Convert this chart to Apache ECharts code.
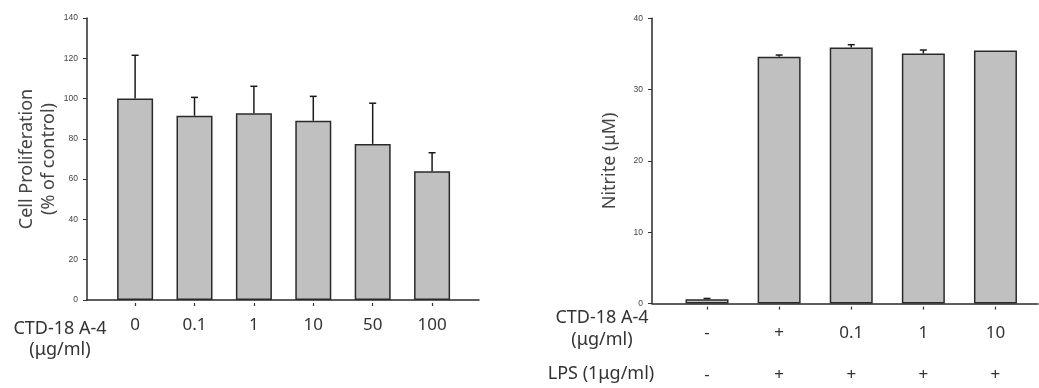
<!DOCTYPE html>
<html><head><meta charset="utf-8">
<script src="https://cdn.jsdelivr.net/npm/echarts@6/dist/echarts.min.js"></script>
<style>html,body{margin:0;padding:0;background:#fff}#c{width:1039px;height:388px}</style>
</head><body><div id="c"></div>
<script>
// Left panel: cell proliferation
const leftCats = ['0', '0.1', '1', '10', '50', '100'];
const leftVals = [100, 91.5, 92.7, 89.0, 77.5, 63.9];
const leftErr  = [21.5, 9.1, 13.4, 12.1, 20.2, 9.2];
const leftTicks = [0, 20, 40, 60, 80, 100, 120, 140];
// Right panel: nitrite
const rightCats = ['-', '+', '0.1', '1', '10'];
const rightLps  = ['-', '+', '+', '+', '+'];
const rightVals = [0.6, 34.6, 35.9, 35.05, 35.5];
const rightErr  = [0.12, 0.25, 0.4, 0.5, 0];
const rightTicks = [0, 10, 20, 30, 40];

const FONT = 'Noto Sans';
const chart = echarts.init(document.getElementById('c'), null, {renderer: 'canvas'});
const idx = a => a.map((_, i) => i);

function errSeries(xi, yi, vals, errs) {
  return {
    type: 'custom', xAxisIndex: xi, yAxisIndex: yi, z: 5,
    data: vals.map((v, i) => [i, v, errs[i]]),
    renderItem: (params, api) => {
      const x = api.value(0), v = api.value(1), e = api.value(2);
      if (!(e > 0)) return null;
      const b = api.coord([x, v]), t = api.coord([x, v + e]);
      const st = {stroke: '#1a1a1a', lineWidth: 1.5};
      return {type: 'group', children: [
        {type: 'line', shape: {x1: b[0], y1: b[1], x2: t[0], y2: t[1]}, style: st},
        {type: 'line', shape: {x1: t[0] - 3.5, y1: t[1], x2: t[0] + 3.5, y2: t[1]}, style: st}
      ]};
    }
  };
}

const axisLineStyle = {color: '#2a2a2a', width: 1.5};
const yLabel = {fontFamily: 'Liberation Sans', fontSize: 8.5, color: '#444'};
const catLabel = {fontFamily: FONT, fontSize: 17, color: '#333'};
const hdr = {fontFamily: FONT, fontSize: 18, fill: '#333', align: 'center', verticalAlign: 'middle'};

chart.setOption({
  animation: false,
  grid: [
    {left: 87, top: 18, width: 392, height: 282},
    {left: 652, top: 18.3, width: 386, height: 285.3}
  ],
  xAxis: [
    {gridIndex: 0, type: 'value', min: -0.81, max: 5.79, axisLine: {show: true, lineStyle: axisLineStyle, onZero: false},
     axisTick: {show: false}, axisLabel: {show: false}, splitLine: {show: false}},
    {gridIndex: 0, type: 'value', min: -0.81, max: 5.79, position: 'bottom', offset: 3,
     axisLine: {show: false, onZero: false}, splitLine: {show: false},
     axisTick: {show: true, customValues: idx(leftCats), length: 3, lineStyle: {color: '#333', width: 1.2}},
     axisLabel: {show: true, customValues: idx(leftCats), margin: 14, formatter: v => leftCats[Math.round(v)], ...catLabel}},
    {gridIndex: 1, type: 'value', min: -0.763, max: 4.59, axisLine: {show: true, lineStyle: axisLineStyle, onZero: false},
     axisTick: {show: false}, axisLabel: {show: false}, splitLine: {show: false}},
    {gridIndex: 1, type: 'value', min: -0.763, max: 4.59, position: 'bottom', offset: 3,
     axisLine: {show: false, onZero: false}, splitLine: {show: false},
     axisTick: {show: true, customValues: idx(rightCats), length: 3, lineStyle: {color: '#333', width: 1.2}},
     axisLabel: {show: true, customValues: idx(rightCats), margin: 18, formatter: v => rightCats[Math.round(v)], ...catLabel}},
    {gridIndex: 1, type: 'value', min: -0.763, max: 4.59, position: 'bottom', offset: 0,
     axisLine: {show: false, onZero: false}, splitLine: {show: false}, axisTick: {show: false},
     axisLabel: {show: true, customValues: idx(rightLps), margin: 63, formatter: v => rightLps[Math.round(v)], ...catLabel}}
  ],
  yAxis: [
    {gridIndex: 0, type: 'value', min: 0, max: 140, interval: 20,
     axisLine: {show: true, onZero: false, lineStyle: axisLineStyle}, axisTick: {show: true, length: 4, lineStyle: {color: '#333'}},
     axisLabel: {margin: 9, formatter: v => leftTicks.includes(v) ? String(v) : '', ...yLabel}, splitLine: {show: false},
     name: 'Cell Proliferation\n(% of control)', nameLocation: 'middle', nameGap: 25, nameRotate: 90,
     nameTextStyle: {fontFamily: FONT, fontSize: 18, color: '#444', lineHeight: 22}},
    {gridIndex: 1, type: 'value', min: 0, max: 40, interval: 10,
     axisLine: {show: true, onZero: false, lineStyle: axisLineStyle}, axisTick: {show: true, length: 4, lineStyle: {color: '#333'}},
     axisLabel: {margin: 9, formatter: v => rightTicks.includes(v) ? String(v) : '', ...yLabel}, splitLine: {show: false},
     name: 'Nitrite (μM)', nameLocation: 'middle', nameGap: 31, nameRotate: 90,
     nameTextStyle: {fontFamily: FONT, fontSize: 18, color: '#444', lineHeight: 22}}
  ],
  series: [
    {type: 'bar', xAxisIndex: 0, yAxisIndex: 0, barWidth: 36,
     data: leftVals.map((v, i) => [i, v]),
     itemStyle: {color: '#c0c0c0', borderColor: '#2a2a2a', borderWidth: 1.5}},
    errSeries(0, 0, leftVals, leftErr),
    {type: 'bar', xAxisIndex: 2, yAxisIndex: 1, barWidth: 43,
     data: rightVals.map((v, i) => [i, v]),
     itemStyle: {color: '#c0c0c0', borderColor: '#2a2a2a', borderWidth: 1.5}},
    errSeries(2, 1, rightVals, rightErr)
  ],
  graphic: [
    {type: 'text', x: 60, y: 329, style: {text: 'CTD-18 A-4', ...hdr}},
    {type: 'text', x: 60, y: 350, style: {text: '(μg/ml)', ...hdr}},
    {type: 'text', x: 602, y: 318, style: {text: 'CTD-18 A-4', ...hdr}},
    {type: 'text', x: 602, y: 340, style: {text: '(μg/ml)', ...hdr}},
    {type: 'text', x: 601, y: 374, style: {text: 'LPS (1μg/ml)', ...hdr}}
  ]
});
</script></body></html>
